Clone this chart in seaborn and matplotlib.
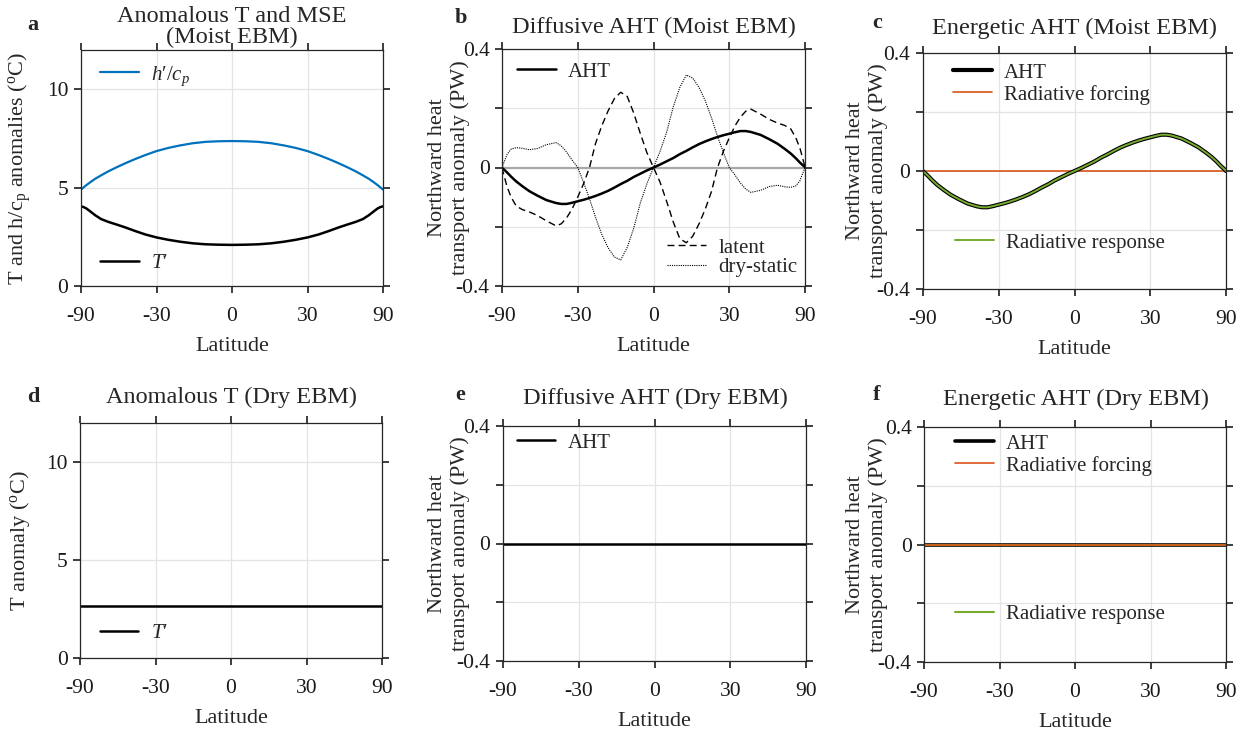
import numpy as np
import matplotlib
matplotlib.use("Agg")
import matplotlib.pyplot as plt
from matplotlib.legend import Legend
import seaborn as sns

# ---- data (latitude in degrees) ----
lat_a = [-90, -85, -80, -75, -70, -65, -60, -55, -50, -45, -40, -35, -30, -25, -20, -15, -10, -5,
         0, 5, 10, 15, 20, 25, 30, 35, 40, 45, 50, 55, 60, 65, 70, 75, 80, 85, 90]
h_moist = [4.90, 4.93, 5.00, 5.12, 5.27, 5.45, 5.63, 5.83, 6.03, 6.24, 6.45, 6.66, 6.86, 7.02, 7.15, 7.26, 7.33, 7.36,
           7.37, 7.36, 7.33, 7.26, 7.15, 7.02, 6.86, 6.66, 6.45, 6.24, 6.03, 5.83, 5.63, 5.45, 5.27, 5.12, 5.00, 4.93, 4.90]
t_moist = [4.05, 4.04, 4.02, 3.95, 3.80, 3.60, 3.40, 3.26, 3.13, 2.98, 2.80, 2.62, 2.47, 2.35, 2.25, 2.17, 2.12, 2.10,
           2.09, 2.10, 2.12, 2.17, 2.25, 2.35, 2.47, 2.62, 2.80, 2.98, 3.13, 3.26, 3.40, 3.60, 3.80, 3.95, 4.02, 4.04, 4.05]

lat_b = [-90, -85, -80, -75, -70, -65, -60, -55, -50, -45, -40, -37.5, -35, -32.5, -30, -27.5, -25, -22.5,
         -20, -17.5, -15, -12.5, -10, -7.5, -5, -2.5, 0, 2.5, 5, 7.5, 10, 12.5, 15, 17.5, 20, 22.5, 25,
         27.5, 30, 32.5, 35, 37.5, 40, 45, 50, 55, 60, 65, 70, 75, 80, 85, 90]
aht_moist = [0, -0.003, -0.008, -0.017, -0.031, -0.047, -0.063, -0.080, -0.095, -0.110, -0.120, -0.123, -0.123,
             -0.119, -0.114, -0.109, -0.103, -0.096, -0.088, -0.079, -0.068, -0.056, -0.045, -0.032, -0.021, -0.010,
             0, 0.010, 0.021, 0.032, 0.045, 0.056, 0.068, 0.079, 0.088, 0.096, 0.103, 0.109, 0.114, 0.119, 0.123,
             0.123, 0.120, 0.110, 0.095, 0.080, 0.063, 0.047, 0.031, 0.017, 0.008, 0.003, 0]
latent = [0, -0.009, -0.031, -0.066, -0.100, -0.130, -0.142, -0.150, -0.162, -0.180, -0.197, -0.190, -0.170,
          -0.140, -0.100, -0.055, 0.000, 0.081, 0.140, 0.190, 0.232, 0.254, 0.240, 0.184, 0.115, 0.050,
          0, -0.050, -0.115, -0.184, -0.240, -0.254, -0.232, -0.190, -0.140, -0.081, 0.000, 0.055, 0.100,
          0.140, 0.170, 0.190, 0.197, 0.180, 0.162, 0.150, 0.142, 0.130, 0.100, 0.066, 0.031, 0.009, 0]
dry_static = [0, 0.006, 0.020, 0.045, 0.062, 0.067, 0.065, 0.060, 0.064, 0.077, 0.084, 0.073, 0.052,
              0.025, 0.000, -0.050, -0.105, -0.168, -0.225, -0.270, -0.302, -0.312, -0.270, -0.205, -0.120, -0.055,
              0, 0.055, 0.120, 0.205, 0.270, 0.312, 0.302, 0.270, 0.225, 0.168, 0.105, 0.050, 0.000,
              -0.025, -0.052, -0.073, -0.084, -0.077, -0.064, -0.060, -0.065, -0.067, -0.062, -0.045, -0.020, -0.006, 0]
rad_forcing_moist = [0, 0]
rad_response_moist = aht_moist

lat_ends = [-90, 90]
t_dry = [2.63, 2.63]
aht_dry = [0, 0]
rad_forcing_dry = [0, 0]
rad_response_dry = [0, 0]

tick_lats = [-90, -30, 0, 30, 90]
tick_labels = ["-90", "-30", "0", "30", "90"]

BLUE = "#0072BD"
ORANGE = "#D95319"
GREEN = "#77AC30"
SPINE = "#262626"

sns.set_theme(style="ticks")
plt.rcParams["font.family"] = ["Liberation Serif", "DejaVu Serif"]
plt.rcParams["mathtext.fontset"] = "custom"
plt.rcParams["mathtext.rm"] = "Liberation Serif"
plt.rcParams["mathtext.it"] = "Liberation Serif:italic"
plt.rcParams.update({"xtick.bottom": True, "xtick.top": True, "ytick.left": True, "ytick.right": True,
                     "xtick.direction": "out", "ytick.direction": "out",
                     "xtick.major.size": 5, "ytick.major.size": 5,
                     "xtick.color": SPINE, "ytick.color": SPINE,
                     "axes.edgecolor": SPINE, "axes.linewidth": 0.9})

W, H = 1249, 732
fig = plt.figure(figsize=(W / 100, H / 100), dpi=100)


def rect(left, right, top, bottom):
    return [left / W, 1 - bottom / H, (right - left) / W, (bottom - top) / H]


def sx(lat):
    return np.sin(np.deg2rad(np.asarray(lat, dtype=float)))


def line(ax, lat, vals, **kw):
    sns.lineplot(x=sx(lat), y=vals, ax=ax, estimator=None, sort=False, **kw)
    return ax.lines[-1]


def style_axes(ax, moist_t=False):
    ax.set_xlim(-1, 1)
    ax.set_xticks(sx(tick_lats))
    ax.set_xticklabels(tick_labels)
    if moist_t:
        ax.set_ylim(0, 12)
        ax.set_yticks([0, 5, 10])
        ax.set_yticklabels(["0", "5", "10"])
    else:
        ax.set_ylim(-0.4, 0.4)
        ax.set_yticks([-0.4, -0.2, 0, 0.2, 0.4])
        ax.set_yticklabels(["-0.4", "", "0", "", "0.4"])
    ax.grid(True, color="#e4e4e4", lw=0.9)
    ax.set_axisbelow(True)
    ax.tick_params(which="major", direction="out", length=5, color=SPINE,
                   bottom=True, left=True, top=True, right=True,
                   labelsize=15.5, labelcolor="#1a1a1a")
    ax.tick_params(axis="x", pad=10)
    ax.tick_params(axis="y", pad=4)
    ax.set_xlabel("Latitude", fontsize=16, labelpad=8)


def legend(ax, handles, labels, x, y, spacing=0.0):
    lg = Legend(ax, handles, labels, loc="center left", bbox_to_anchor=(x, y),
                frameon=False, fontsize=15, handlelength=1.85, handletextpad=0.6,
                borderpad=0, borderaxespad=0, labelspacing=spacing)
    ax.add_artist(lg)
    return lg


def fig_text(x, y, s, **kw):
    fig.text(x / W, 1 - y / H, s, va="baseline", **kw)


ylab_moist = "Northward heat\ntransport anomaly (PW)"

# ---- a ----
ax = fig.add_axes(rect(81, 383, 50, 286))
lh = line(ax, lat_a, h_moist, color=BLUE, lw=1.6)
lt = line(ax, lat_a, t_moist, color="black", lw=1.8)
style_axes(ax, moist_t=True)
ax.set_ylabel(r"T and h/c$_\mathrm{p}$ anomalies ($^\mathrm{o}$C)", fontsize=16)
ax.yaxis.set_label_coords(-0.16, 0.5)
legend(ax, [lh], [r"$h\prime/c_p$"], 0.063, 0.89)
legend(ax, [lt], [r"$T\prime$"], 0.063, 0.097)
fig_text(232, 22, "Anomalous T and MSE", ha="center", fontsize=17.5)
fig_text(232, 43, "(Moist EBM)", ha="center", fontsize=17.5)

# ---- b ----
ax = fig.add_axes(rect(502, 805, 49, 286))
ax.axhline(0, color="#a8a8a8", lw=1.6, zorder=1)
ld = line(ax, lat_b, latent, color="black", lw=1.0, ls=(0, (5, 3)))
ls_ = line(ax, lat_b, dry_static, color="black", lw=0.8, ls=(0, (1, 1)))
la = line(ax, lat_b, aht_moist, color="black", lw=1.8)
style_axes(ax)
ax.set_ylabel(ylab_moist, fontsize=16)
ax.yaxis.set_label_coords(-0.106, 0.5)
legend(ax, [la], ["AHT"], 0.05, 0.903)
legend(ax, [ld, ls_], ["latent", "dry-static"], 0.545, 0.12)
fig_text(654, 33, "Diffusive AHT (Moist EBM)", ha="center", fontsize=17.5)

# ---- c ----
ax = fig.add_axes(rect(923, 1226, 53, 289))
lf = line(ax, lat_ends, rad_forcing_moist, color=ORANGE, lw=1.2)
la = line(ax, lat_b, aht_moist, color="black", lw=3.0)
lr = line(ax, lat_b, rad_response_moist, color=GREEN, lw=1.4)
style_axes(ax)
ax.set_ylabel(ylab_moist, fontsize=16)
ax.yaxis.set_label_coords(-0.116, 0.5)
legend(ax, [la, lf], ["AHT", "Radiative forcing"], 0.099, 0.869, spacing=0.1)
legend(ax, [lr], ["Radiative response"], 0.106, 0.195)
fig_text(1075, 34, "Energetic AHT (Moist EBM)", ha="center", fontsize=17.5)

# ---- d ----
ax = fig.add_axes(rect(80, 382, 423, 658))
lt = line(ax, lat_ends, t_dry, color="black", lw=1.8)
style_axes(ax, moist_t=True)
ax.set_ylabel(r"T anomaly ($^\mathrm{o}$C)", fontsize=16)
ax.yaxis.set_label_coords(-0.16, 0.5)
legend(ax, [lt], [r"$T\prime$"], 0.066, 0.106)
fig_text(232, 403, "Anomalous T (Dry EBM)", ha="center", fontsize=17.5)

# ---- e ----
ax = fig.add_axes(rect(503, 806, 426, 661))
la = line(ax, lat_ends, aht_dry, color="black", lw=1.8)
style_axes(ax)
ax.set_ylabel(ylab_moist, fontsize=16)
ax.yaxis.set_label_coords(-0.109, 0.5)
legend(ax, [la], ["AHT"], 0.046, 0.928)
fig_text(655, 404, "Diffusive AHT (Dry EBM)", ha="center", fontsize=17.5)

# ---- f ----
ax = fig.add_axes(rect(924, 1226, 427, 662))
la = line(ax, lat_ends, aht_dry, color="black", lw=2.6)
lr = line(ax, lat_ends, rad_response_dry, color=GREEN, lw=1.5)
lf = line(ax, lat_ends, rad_forcing_dry, color=ORANGE, lw=1.2)
style_axes(ax)
ax.set_ylabel(ylab_moist, fontsize=16)
ax.yaxis.set_label_coords(-0.119, 0.5)
legend(ax, [la, lf], ["AHT", "Radiative forcing"], 0.103, 0.881, spacing=0.1)
legend(ax, [lr], ["Radiative response"], 0.103, 0.204)
fig_text(1076, 405, "Energetic AHT (Dry EBM)", ha="center", fontsize=17.5)

# panel letters
for letter, (x, y) in zip("abcdef", [(27, 30), (455, 23), (872, 28), (27, 402), (455, 400), (873, 400)]):
    fig_text(x, y, letter, ha="left", fontsize=16, fontweight="bold")

fig.savefig("out.png", dpi=100)
